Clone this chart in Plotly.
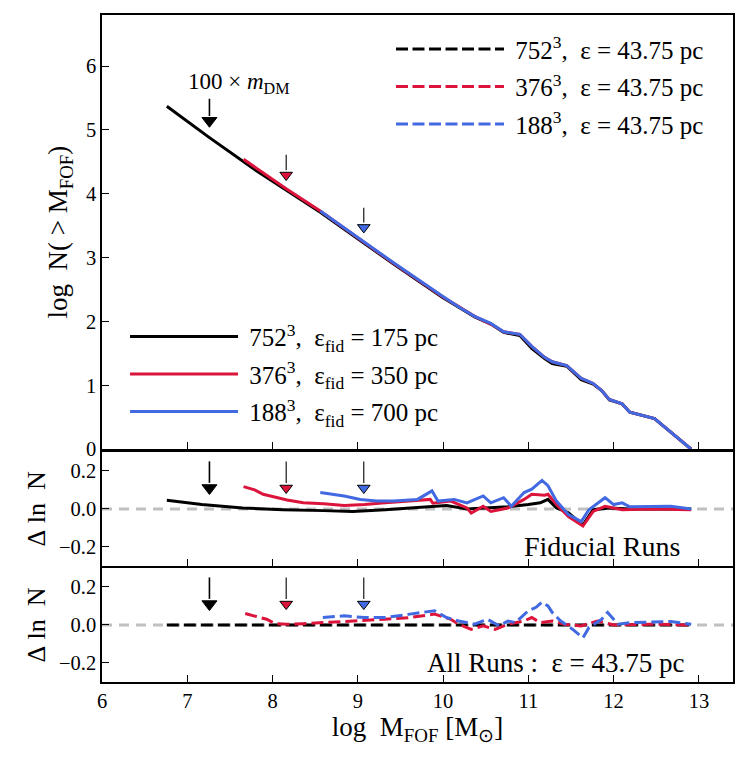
import plotly.graph_objects as go

FONT = "Liberation Serif"
BLACK = "#000000"
RED = "#DC143C"
BLUE = "#4169E1"
GREY = "#C0C0C0"
NB = "\u00a0"

# ---------------- data: top panel, cumulative counts ----------------
top_x_752 = [6.76, 7.26, 7.79, 8.16, 8.56, 9.07, 9.42, 9.99, 10.18, 10.37, 10.56, 10.71, 10.90,
             11.04, 11.19, 11.28, 11.45, 11.62, 11.76, 11.86, 11.95, 12.10, 12.19, 12.48, 12.91]
top_y_752 = [5.37, 4.88, 4.38, 4.06, 3.71, 3.23, 2.90, 2.38, 2.22, 2.07, 1.96, 1.83, 1.78,
             1.58, 1.42, 1.34, 1.30, 1.09, 1.02, 0.92, 0.77, 0.71, 0.58, 0.48, 0.0]
top_x_376 = [7.66, 7.79, 8.16, 8.56, 9.07, 9.42, 9.99, 10.18, 10.37, 10.56, 10.71, 10.90,
             11.04, 11.19, 11.28, 11.45, 11.62, 11.76, 11.86, 11.95, 12.10, 12.19, 12.48, 12.91]
top_y_376 = [4.54, 4.42, 4.08, 3.73, 3.24, 2.91, 2.39, 2.23, 2.08, 1.96, 1.84, 1.80,
             1.61, 1.44, 1.37, 1.31, 1.11, 1.03, 0.92, 0.78, 0.71, 0.58, 0.48, 0.0]
top_x_188 = [8.56, 9.07, 9.42, 9.99, 10.18, 10.37, 10.56, 10.71, 10.90,
             11.04, 11.19, 11.28, 11.45, 11.62, 11.76, 11.86, 11.95, 12.10, 12.19, 12.48, 12.91]
top_y_188 = [3.73, 3.25, 2.92, 2.40, 2.23, 2.08, 1.97, 1.84, 1.80,
             1.61, 1.44, 1.37, 1.31, 1.11, 1.03, 0.92, 0.78, 0.71, 0.58, 0.48, 0.0]

# ---------------- data: middle panel (fiducial runs) ----------------
fid_x_752 = [6.76, 7.17, 7.65, 8.12, 8.60, 8.94, 9.32, 9.80, 10.04, 10.28, 10.52, 10.76, 11.00,
             11.14, 11.23, 11.33, 11.47, 11.64, 11.76, 11.95, 12.19, 12.91]
fid_y_752 = [0.045, 0.023, 0.005, -0.004, -0.009, -0.014, -0.004, 0.011, 0.018, 0.0, 0.005, 0.011,
             0.023, 0.032, 0.05, 0.005, -0.02, -0.085, -0.004, 0.005, 0.0, 0.0]
fid_x_376 = [7.66, 7.79, 7.89, 8.03, 8.17, 8.36, 8.60, 8.84, 9.08, 9.32, 9.61, 9.85, 9.88, 10.09,
             10.28, 10.33, 10.47, 10.56, 10.66, 10.76, 10.95, 11.04, 11.19, 11.23, 11.33, 11.47,
             11.64, 11.76, 11.90, 12.10, 12.43, 12.91]
fid_y_376 = [0.117, 0.10, 0.077, 0.06, 0.047, 0.032, 0.027, 0.018, 0.023, 0.032, 0.041, 0.05, 0.03,
             0.041, 0.005, -0.022, 0.014, -0.013, -0.004, 0.005, 0.05, 0.077, 0.072, 0.077, 0.023,
             -0.04, -0.09, -0.013, 0.014, -0.004, 0.0, -0.004]
fid_x_188 = [8.56, 8.70, 8.84, 9.03, 9.22, 9.42, 9.70, 9.87, 9.94, 10.13, 10.28, 10.47, 10.56,
             10.71, 10.80, 10.95, 11.04, 11.16, 11.23, 11.33, 11.47, 11.62, 11.71, 11.90, 12.00,
             12.10, 12.19, 12.67, 12.91]
fid_y_188 = [0.086, 0.077, 0.068, 0.05, 0.041, 0.041, 0.05, 0.095, 0.041, 0.05, 0.032, 0.068, 0.032,
             0.059, 0.014, 0.086, 0.104, 0.15, 0.122, 0.041, -0.03, -0.067, -0.004, 0.059, 0.023,
             0.032, 0.011, 0.014, 0.0]

# ---------------- data: bottom panel (all runs, eps = 43.75 pc) ----------------
all_x_752 = [6.76, 12.91]
all_y_752 = [0.0, 0.0]
all_x_376 = [7.68, 7.79, 7.93, 8.03, 8.17, 8.36, 8.60, 8.84, 9.08, 9.32, 9.61, 9.90, 10.09, 10.18,
             10.33, 10.47, 10.61, 10.76, 10.95, 11.04, 11.14, 11.28, 11.42, 11.62, 11.81, 12.00,
             12.43, 12.91]
all_y_376 = [0.06, 0.048, 0.03, 0.007, 0.004, 0.007, 0.0125, 0.018, 0.021, 0.03, 0.039, 0.057, 0.03,
             0.004, -0.023, -0.005, -0.023, 0.004, 0.021, 0.039, 0.0125, 0.021, 0.004, -0.005,
             0.021, 0.0, 0.004, 0.0]
all_x_188 = [8.59, 8.84, 9.08, 9.32, 9.61, 9.90, 10.04, 10.18, 10.37, 10.52, 10.66, 10.76, 10.85,
             11.00, 11.09, 11.16, 11.23, 11.28, 11.38, 11.52, 11.64, 11.71, 11.86, 11.93, 12.05,
             12.19, 12.67, 12.91]
all_y_188 = [0.039, 0.048, 0.039, 0.039, 0.057, 0.075, 0.039, 0.021, 0.004, 0.03, -0.005, 0.021,
             0.0125, 0.075, 0.093, 0.12, 0.10, 0.066, 0.021, -0.023, -0.068, -0.014, 0.03, 0.066,
             0.004, 0.0125, 0.018, 0.004]

# 100 x m_DM markers for each resolution
arrow_x = [7.26, 8.16, 9.07]
arrow_top_tail = [5.49, 4.61, 3.78]
arrow_top_tip = [5.05, 4.20, 3.38]
arrow_res_tail = 0.25
arrow_res_tip = 0.077

labels_fid = [NB + "752<sup>3</sup>," + NB * 2 + "ε<sub>fid</sub> = 175 pc",
              NB + "376<sup>3</sup>," + NB * 2 + "ε<sub>fid</sub> = 350 pc",
              NB + "188<sup>3</sup>," + NB * 2 + "ε<sub>fid</sub> = 700 pc"]
labels_eps = [NB + "752<sup>3</sup>," + NB * 2 + "ε = 43.75 pc",
              NB + "376<sup>3</sup>," + NB * 2 + "ε = 43.75 pc",
              NB + "188<sup>3</sup>," + NB * 2 + "ε = 43.75 pc"]
colors = [BLACK, RED, BLUE]

fig = go.Figure()

# zero reference lines in residual panels
for ya in ["y", "y2"]:
    fig.add_trace(go.Scatter(x=[6, 13.4], y=[0, 0], mode="lines", xaxis="x" if ya == "y" else "x2",
                             yaxis=ya, line=dict(color=GREY, width=3, dash="10px,7px"),
                             showlegend=False, hoverinfo="skip"))

# top panel: fiducial (solid) and eps runs (dashed legend entries)
tops = [(top_x_752, top_y_752), (top_x_376, top_y_376), (top_x_188, top_y_188)]
for i, ((xs, ys), c, lab) in enumerate(zip(tops, colors, labels_fid)):
    fig.add_trace(go.Scatter(x=xs, y=ys, mode="lines", xaxis="x3", yaxis="y3",
                             line=dict(color=c, width=3), name=lab, legend="legend",
                             legendgroup="f%d" % i))
for i, (c, lab) in enumerate(zip(colors, labels_eps)):
    fig.add_trace(go.Scatter(x=[None], y=[None], mode="lines", xaxis="x3", yaxis="y3",
                             line=dict(color=c, width=3, dash="12px,4.5px"), name=lab,
                             legend="legend2", legendgroup="e%d" % i))

# middle panel
fids = [(fid_x_752, fid_y_752), (fid_x_376, fid_y_376), (fid_x_188, fid_y_188)]
for (xs, ys), c in zip(fids, colors):
    fig.add_trace(go.Scatter(x=xs, y=ys, mode="lines", xaxis="x2", yaxis="y2",
                             line=dict(color=c, width=3), showlegend=False))

# bottom panel
alls = [(all_x_752, all_y_752), (all_x_376, all_y_376), (all_x_188, all_y_188)]
for (xs, ys), c in zip(alls, colors):
    fig.add_trace(go.Scatter(x=xs, y=ys, mode="lines", xaxis="x", yaxis="y",
                             line=dict(color=c, width=3, dash="12px,5px"), showlegend=False))

# arrows
def add_arrow(xa, ya_name, tail, tip, color, big, head_off):
    xref = {"y": "x", "y2": "x2", "y3": "x3"}[ya_name]
    fig.add_trace(go.Scatter(x=[xa, xa], y=[tail, tip + head_off], mode="lines", xaxis=xref,
                             yaxis=ya_name, line=dict(color=BLACK, width=1.6 if big else 1.1),
                             showlegend=False, hoverinfo="skip"))
    fig.add_trace(go.Scatter(x=[xa], y=[tip + head_off * 0.55], mode="markers", xaxis=xref,
                             yaxis=ya_name,
                             marker=dict(symbol="triangle-down", size=13 if big else 11,
                                         color=color, line=dict(color=BLACK, width=1)),
                             showlegend=False, hoverinfo="skip"))

for xa, tl, tp, c in zip(arrow_x, arrow_top_tail, arrow_top_tip, colors):
    add_arrow(xa, "y3", tl, tp, c, c == BLACK, 0.17)
    add_arrow(xa, "y2", arrow_res_tail, arrow_res_tip, c, c == BLACK, 0.06)
    add_arrow(xa, "y", arrow_res_tail, arrow_res_tip, c, c == BLACK, 0.06)

annotations = [
    dict(x=arrow_x[0] + 0.35, y=5.73, xref="x3", yref="y3",
         text="100 × <i>m</i><sub>DM</sub>", showarrow=False,
         font=dict(size=23, family=FONT, color=BLACK)),
    dict(x=12.8, y=-0.2, xref="x2", yref="y2", xanchor="right",
         text="Fiducial Runs", showarrow=False,
         font=dict(size=28, family=FONT, color=BLACK)),
    dict(x=12.86, y=-0.2, xref="x", yref="y", xanchor="right",
         text="All Runs :" + NB * 2 + "ε = 43.75 pc", showarrow=False,
         font=dict(size=27, family=FONT, color=BLACK)),
]

axis_common = dict(showline=True, linecolor=BLACK, linewidth=1.5, mirror=True,
                   ticks="inside", ticklen=7, tickwidth=1.2, tickcolor=BLACK,
                   showgrid=False, zeroline=False,
                   tickfont=dict(size=20.5, family=FONT, color=BLACK))

xt = [6, 7, 8, 9, 10, 11, 12, 13]
res_title = "Δ" + NB + "ln" + NB * 2 + "N"
fig.update_layout(
    width=749, height=763,
    margin=dict(l=102, r=16, t=15, b=81),
    paper_bgcolor="white", plot_bgcolor="white",
    font=dict(family=FONT, color=BLACK),
    xaxis=dict(domain=[0, 1], range=[6, 13.4], anchor="y", tickvals=xt,
               title=dict(text="log" + NB * 2 + "M<sub>FOF</sub>" + NB + "[M<sub>⊙</sub>]",
                          font=dict(size=27, family=FONT), standoff=5), **axis_common),
    xaxis2=dict(domain=[0, 1], range=[6, 13.4], anchor="y2", tickvals=xt,
                showticklabels=False, **axis_common),
    xaxis3=dict(domain=[0, 1], range=[6, 13.4], anchor="y3", tickvals=xt,
                showticklabels=False, **axis_common),
    yaxis=dict(domain=[0, 0.171], range=[-0.3, 0.3], anchor="x",
               tickvals=[-0.2, 0, 0.2], ticktext=["−0.2", "0.0", "0.2"],
               title=dict(text=res_title, font=dict(size=26, family=FONT), standoff=6),
               **axis_common),
    yaxis2=dict(domain=[0.174, 0.345], range=[-0.3, 0.3], anchor="x2",
                tickvals=[-0.2, 0, 0.2], ticktext=["−0.2", "0.0", "0.2"],
                title=dict(text=res_title, font=dict(size=26, family=FONT), standoff=6),
                **axis_common),
    yaxis3=dict(domain=[0.349, 1], range=[0, 6.8], anchor="x3",
                tickvals=[0, 1, 2, 3, 4, 5, 6],
                title=dict(text="log" + NB * 2 + "N(" + NB + ">" + NB + "M<sub>FOF</sub>)",
                           font=dict(size=27, family=FONT), standoff=10),
                **axis_common),
    legend=dict(x=0.0365, y=0.552, xanchor="left", yanchor="top", bgcolor="rgba(0,0,0,0)",
                font=dict(size=25, family=FONT, color=BLACK), itemwidth=108,
                tracegroupgap=2),
    legend2=dict(x=0.458, y=0.983, xanchor="left", yanchor="top", bgcolor="rgba(0,0,0,0)",
                 font=dict(size=25, family=FONT, color=BLACK), itemwidth=108,
                 tracegroupgap=2),
    annotations=annotations,
)

fig.write_html("out.html")
